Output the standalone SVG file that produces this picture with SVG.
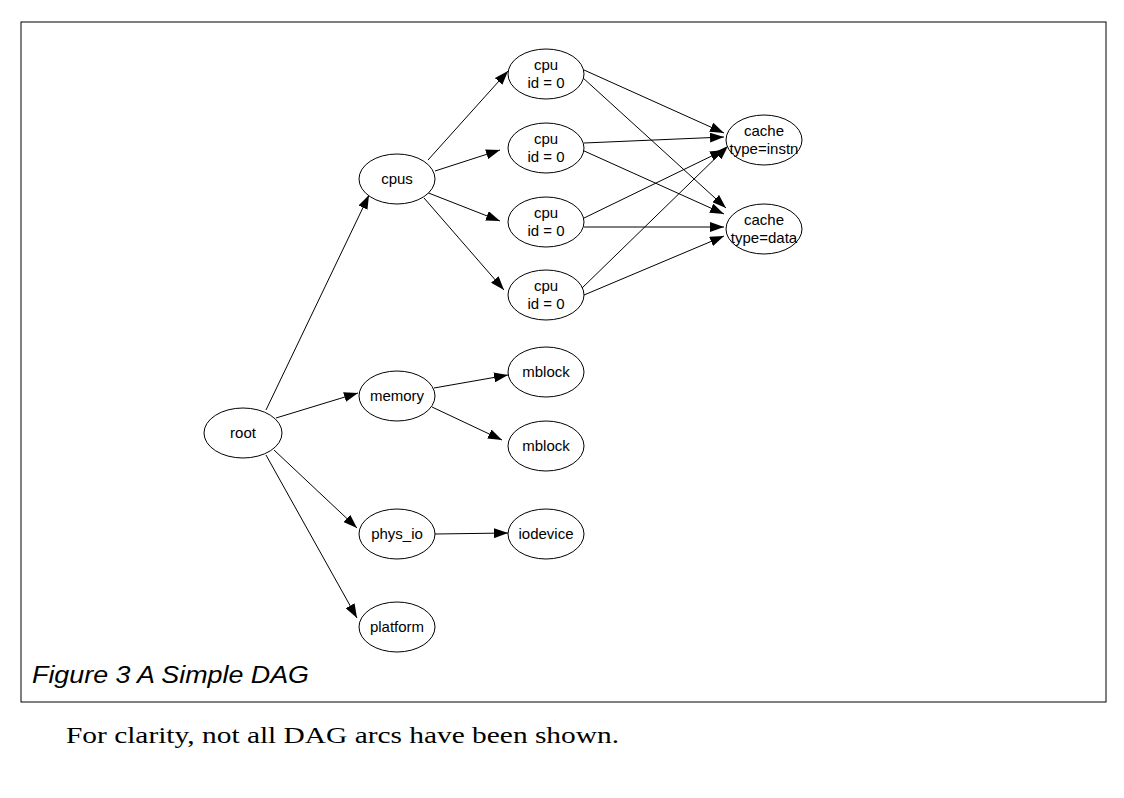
<svg xmlns="http://www.w3.org/2000/svg" width="1124" height="798" viewBox="0 0 1124 798">
<style>
.n ellipse{fill:#fff;stroke:#000;stroke-width:1}
.n text{font-family:"Liberation Sans",Arial,sans-serif;font-size:15px;text-anchor:middle}
#edges line{stroke:#000;stroke-width:1;marker-end:url(#ah)}
</style>
<defs>
<marker id="ah" markerUnits="userSpaceOnUse" markerWidth="14" markerHeight="10" refX="14" refY="5" orient="auto"><path d="M0,0 L14,5 L0,10 Z" fill="#000"/></marker>
</defs>
<rect x="0" y="0" width="1124" height="798" fill="#fff"/>
<rect x="21" y="22" width="1085" height="680" fill="none" stroke="#000"/>
<g id="edges">
<line x1="266" y1="410" x2="369" y2="195"/>
<line x1="276" y1="418" x2="358" y2="393"/>
<line x1="274" y1="450" x2="357" y2="528"/>
<line x1="266" y1="455" x2="357" y2="618"/>
<line x1="428" y1="160" x2="508" y2="71"/>
<line x1="435" y1="171" x2="500" y2="150"/>
<line x1="426" y1="192" x2="500" y2="221"/>
<line x1="424" y1="198" x2="504" y2="290"/>
<line x1="434" y1="388" x2="508" y2="375"/>
<line x1="432" y1="407" x2="502" y2="440"/>
<line x1="435" y1="534" x2="508" y2="533"/>
<line x1="584" y1="70" x2="724" y2="133"/>
<line x1="582" y1="77" x2="726" y2="208"/>
<line x1="584" y1="143" x2="724" y2="137"/>
<line x1="582" y1="150" x2="724" y2="214"/>
<line x1="582" y1="219" x2="724" y2="150"/>
<line x1="584" y1="227" x2="724" y2="227"/>
<line x1="580" y1="290" x2="728" y2="146"/>
<line x1="584" y1="295" x2="724" y2="236"/>
</g>
<g id="root" class="n"><ellipse cx="243" cy="433" rx="39" ry="25"/><text x="243" y="438">root</text></g>
<g id="cpus" class="n"><ellipse cx="397" cy="179" rx="38" ry="25"/><text x="397" y="184">cpus</text></g>
<g id="memory" class="n"><ellipse cx="397" cy="396" rx="38" ry="25"/><text x="397" y="401">memory</text></g>
<g id="phys_io" class="n"><ellipse cx="397" cy="534" rx="38" ry="25"/><text x="397" y="539">phys_io</text></g>
<g id="platform" class="n"><ellipse cx="397" cy="627" rx="38" ry="25"/><text x="397" y="632">platform</text></g>
<g id="cpu1" class="n"><ellipse cx="546" cy="74" rx="38" ry="25"/><text x="546" y="70">cpu</text><text x="546" y="88">id = 0</text></g>
<g id="cpu2" class="n"><ellipse cx="546" cy="148" rx="38" ry="25"/><text x="546" y="144">cpu</text><text x="546" y="162">id = 0</text></g>
<g id="cpu3" class="n"><ellipse cx="546" cy="222" rx="38" ry="25"/><text x="546" y="218">cpu</text><text x="546" y="236">id = 0</text></g>
<g id="cpu4" class="n"><ellipse cx="546" cy="295" rx="38" ry="25"/><text x="546" y="291">cpu</text><text x="546" y="309">id = 0</text></g>
<g id="mblock1" class="n"><ellipse cx="546" cy="372" rx="38" ry="25"/><text x="546" y="377">mblock</text></g>
<g id="mblock2" class="n"><ellipse cx="546" cy="446" rx="38" ry="25"/><text x="546" y="451">mblock</text></g>
<g id="iodevice" class="n"><ellipse cx="546" cy="534" rx="38" ry="25"/><text x="546" y="539">iodevice</text></g>
<g id="cache_instn" class="n"><ellipse cx="764" cy="140" rx="38" ry="25"/><text x="764" y="136">cache</text><text x="764" y="154">type=instn</text></g>
<g id="cache_data" class="n"><ellipse cx="764" cy="229" rx="38" ry="25"/><text x="764" y="225">cache</text><text x="764" y="243">type=data</text></g>
<text x="32" y="683" font-family="Liberation Sans,Arial,sans-serif" font-size="24" font-style="italic" textLength="277" lengthAdjust="spacingAndGlyphs">Figure 3 A Simple DAG</text>
<text x="66" y="743" font-family="Liberation Serif,Times New Roman,serif" font-size="24" textLength="553" lengthAdjust="spacingAndGlyphs">For clarity, not all DAG arcs have been shown.</text>
</svg>
